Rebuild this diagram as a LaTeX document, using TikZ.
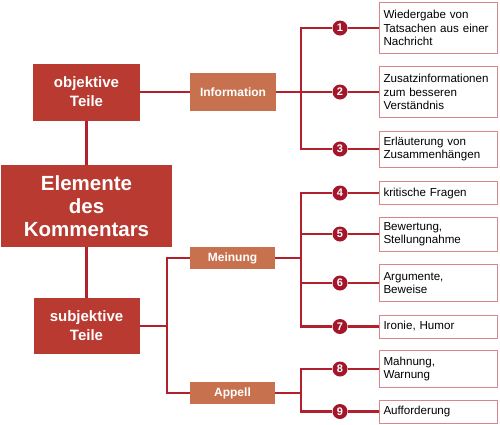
\documentclass[tikz,border=0pt]{standalone}
\usepackage{fontspec}
\setmainfont{Liberation Sans}
\usetikzlibrary{positioning, calc}

\definecolor{darkbox}{RGB}{184,58,48}
\definecolor{lightbox}{RGB}{200,113,78}
\definecolor{linered}{RGB}{178,31,45}
\definecolor{markred}{RGB}{163,22,42}
\definecolor{frame}{RGB}{217,134,138}

\begin{document}
\begin{tikzpicture}[x=1pt, y=-1pt,
        mainpart/.style={rectangle, fill=darkbox, text=white, font=\bfseries\fontsize{15}{19}\selectfont, align=center, inner sep=0pt},
        subpart/.style={rectangle, fill=lightbox, text=white, font=\bfseries\fontsize{12}{14}\selectfont, align=center, inner sep=0pt, minimum width=85pt},
        marker/.style={circle, fill=markred, text=white, font=\bfseries\fontsize{11}{11}\selectfont, inner sep=0pt, minimum size=15pt},
        textbox/.style={rectangle, draw=frame, line width=1pt, fill=white, anchor=west, minimum width=118pt, text width=110pt, inner xsep=4pt, align=left, font=\fontsize{11.6}{13.5}\selectfont},
        link/.style={-, line width=2.4pt, draw=linered}
    ]
        \useasboundingbox (0,0) rectangle (500,424);

        % --- MAIN PARTS ---
        \node[mainpart, minimum width=107pt, minimum height=57pt] (obj) at (86.5, 92) {objektive\\Teile};
        \node[mainpart, minimum width=171pt, minimum height=82pt, font=\bfseries\fontsize{20.5}{23}\selectfont] (elem) at (86.5, 206) {Elemente\\des\\Kommentars};
        \node[mainpart, minimum width=106pt, minimum height=56pt] (subj) at (86.5, 326) {subjektive\\Teile};

        % --- SUB PARTS ---
        \node[subpart, minimum width=86pt, minimum height=38pt] (info) at (233, 92) {Information};
        \node[subpart, minimum height=22pt] (mein) at (232.5, 258) {Meinung};
        \node[subpart, minimum height=22pt] (appell) at (232.5, 393) {Appell};

        % --- MARKERS ---
        \node[marker] (m1) at (340, 28) {1};
        \node[marker] (m2) at (340, 92) {2};
        \node[marker] (m3) at (340, 149) {3};
        \node[marker] (m4) at (340, 193) {4};
        \node[marker] (m5) at (340, 234) {5};
        \node[marker] (m6) at (340, 283) {6};
        \node[marker] (m7) at (340, 326.5) {7};
        \node[marker] (m8) at (340, 369) {8};
        \node[marker] (m9) at (340, 411.5) {9};

        % --- TEXT BOXES ---
        \node[textbox, minimum height=51pt] (t1) at (379, 28) {Wiedergabe von\\Tatsachen aus einer\\Nachricht};
        \node[textbox, minimum height=51pt] (t2) at (379, 92) {Zusatzinformationen\\zum besseren\\Verständnis};
        \node[textbox, minimum height=36pt] (t3) at (379, 149) {Erläuterung von\\Zusammenhängen};
        \node[textbox, minimum height=23pt] (t4) at (379, 193) {kritische Fragen};
        \node[textbox, minimum height=34pt] (t5) at (379, 234) {Bewertung,\\Stellungnahme};
        \node[textbox, minimum height=37pt] (t6) at (379, 283) {Argumente,\\Beweise};
        \node[textbox, minimum height=23pt] (t7) at (379, 326.5) {Ironie, Humor};
        \node[textbox, minimum height=37pt] (t8) at (379, 369) {Mahnung,\\Warnung};
        \node[textbox, minimum height=23pt] (t9) at (379, 411.5) {Aufforderung};

        % --- JUNCTIONS ---
        \coordinate (sj) at (167, 326);
        \coordinate (ij) at (301, 92);
        \coordinate (mj) at (301, 258);
        \coordinate (aj) at (301, 393);

        % --- CONNECTIONS ---
        \draw[link] (obj) -- (info);
        \draw[link] (obj) -- (elem);
        \draw[link] (elem) -- (subj);
        \draw[link] (subj.east) -- (sj);
        \draw[link] (mein.west) -| (sj) |- (appell.west);

        \draw[link] (info.east) -- (ij);
        \draw[link] (m1) -| (ij) |- (m3);
        \draw[link] (m2) -- (ij);
        \draw[link] (mein.east) -- (mj);
        \draw[link] (m4) -| (mj) |- (m7);
        \draw[link] (m5) -| (mj);
        \draw[link] (m6) -| (mj);
        \draw[link] (appell.east) -- (aj);
        \draw[link] (m8) -| (aj) |- (m9);

        \foreach \i in {1,...,9}
            \draw[link] (m\i) -- (t\i);

    \end{tikzpicture}
\end{document}
